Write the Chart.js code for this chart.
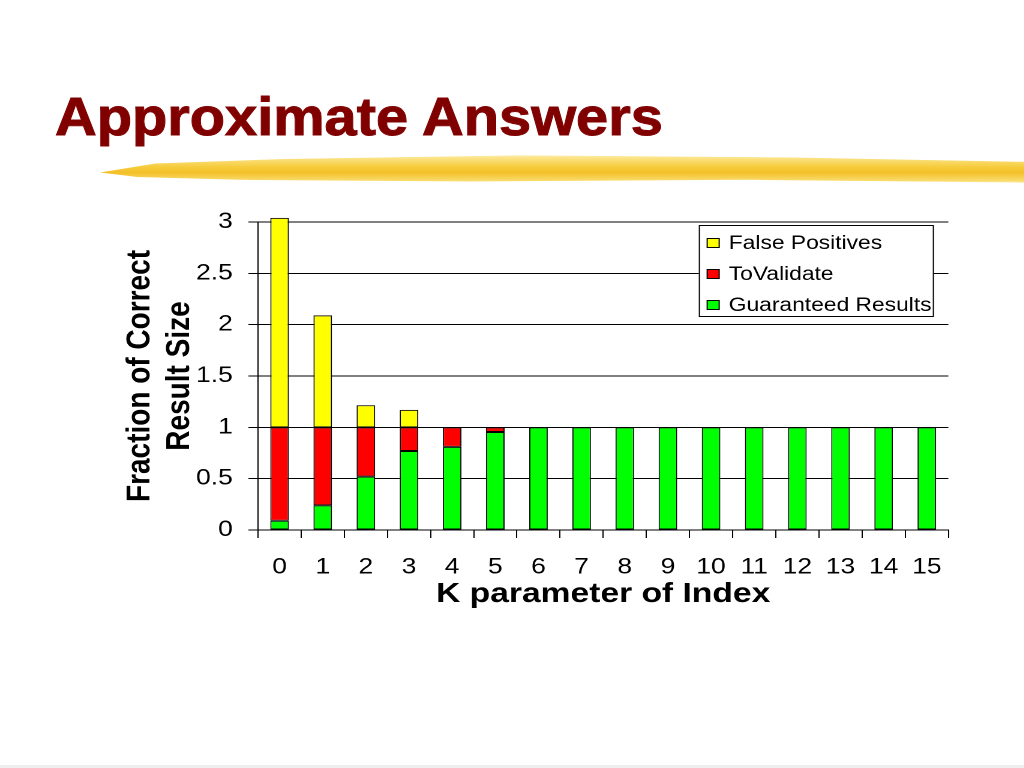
<!DOCTYPE html>
<html>
<head>
<meta charset="utf-8">
<script src="https://cdn.jsdelivr.net/npm/chart.js@4.4.1/dist/chart.umd.min.js"></script>
<style>
  html, body { margin: 0; padding: 0; background: #fff; }
  body { width: 1024px; height: 768px; position: relative; overflow: hidden; }
  .title {
    position: absolute; left: 55px; top: 90px;
    font: bold 53px 'Liberation Sans', Arial, sans-serif; line-height: 1;
    color: #800000; white-space: nowrap;
    -webkit-text-stroke: 1px #800000;
    transform: scaleX(1.09); transform-origin: 0 0;
  }
  .brush {
    position: absolute; left: 100px; top: 151px; width: 924px; height: 36px;
    background: linear-gradient(to bottom, rgba(255,235,140,0) 0%, #fbe48a 18%, #f6cb3a 45%, #f3c02a 60%, #f9db6a 82%, rgba(255,235,140,0) 100%);
    clip-path: polygon(0 60%, 6% 35%, 20% 22%, 45% 12%, 75% 18%, 100% 30%, 100% 88%, 70% 80%, 40% 85%, 15% 80%, 4% 72%);
  }
  .bottom-line { position: absolute; left: 0; top: 765px; width: 1024px; height: 3px; background: #eeeeee; }
  /* chart is drawn narrower and stretched sideways like the slide */
  #wrap {
    position: absolute; left: 0; top: 0; width: 853.33px; height: 768px;
    transform: scaleX(1.2); transform-origin: 0 0;
  }
</style>
</head>
<body>
<div class="title">Approximate Answers</div>
<div class="brush"></div>
<div class="bottom-line"></div>
<div id="wrap"><canvas id="chart"></canvas></div>
<script>
var kValues = ['0', '1', '2', '3', '4', '5', '6', '7', '8', '9', '10', '11', '12', '13', '14', '15'];
var guaranteed = [0.09, 0.24, 0.52, 0.77, 0.81, 0.955, 1, 1, 1, 1, 1, 1, 1, 1, 1, 1];
var toValidate = [0.91, 0.76, 0.48, 0.23, 0.19, 0.045, 0, 0, 0, 0, 0, 0, 0, 0, 0, 0];
var falsePositives = [2.04, 1.09, 0.215, 0.17, 0, 0, 0, 0, 0, 0, 0, 0, 0, 0, 0, 0];
var yTickLabels = ['0', '0.5', '1', '1.5', '2', '2.5', '3'];

Chart.defaults.font.family = "'Liberation Sans', Arial, sans-serif";
Chart.defaults.color = '#000';

// boxed legend drawn inside the plot area, top right
var boxLegend = {
  id: 'boxLegend',
  afterDatasetsDraw: function(chart) {
    var ctx = chart.ctx;
    var area = chart.chartArea;
    var right = area.right - 12;
    var left = right - 196;
    var top = area.top + 3;
    ctx.save();
    ctx.fillStyle = '#fff';
    ctx.fillRect(left, top, 196, 92);
    ctx.strokeStyle = '#000';
    ctx.lineWidth = 1;
    ctx.strokeRect(left + 0.5, top + 0.5, 195, 91);
    ctx.font = "19px 'Liberation Sans', Arial, sans-serif";
    ctx.textBaseline = 'middle';
    var sets = chart.data.datasets.slice().reverse();
    sets.forEach(function(ds, i) {
      var y = top + 18 + i * 31;
      ctx.fillStyle = ds.backgroundColor;
      ctx.fillRect(left + 7, y - 4.5, 10, 9);
      ctx.strokeRect(left + 7, y - 4.5, 10, 9);
      ctx.fillStyle = '#000';
      ctx.fillText(ds.label, left + 25, y + 1);
    });
    ctx.restore();
  }
};

var ctx = document.getElementById('chart').getContext('2d');
var myChart = new Chart(ctx, {
  type: 'bar',
  data: {
    labels: kValues,
    datasets: [
      {
        label: 'Guaranteed Results',
        data: guaranteed,
        backgroundColor: '#00ff00'
      },
      {
        label: 'ToValidate',
        data: toValidate,
        backgroundColor: '#ff0000'
      },
      {
        label: 'False Positives',
        data: falsePositives,
        backgroundColor: '#ffff00',
        clip: { left: 0, top: 10, right: 0, bottom: 0 }
      }
    ]
  },
  options: {
    responsive: true,
    maintainAspectRatio: false,
    devicePixelRatio: 2,
    animation: false,
    datasets: {
      bar: {
        borderColor: '#000',
        borderWidth: 1,
        borderSkipped: false,
        categoryPercentage: 1,
        barPercentage: 0.43
      }
    },
    layout: {
      padding: { top: 222, right: 63, bottom: 157, left: 100 }
    },
    plugins: {
      legend: { display: false },
      tooltip: { enabled: false }
    },
    scales: {
      x: {
        stacked: true,
        grid: {
          offset: true,
          drawOnChartArea: false,
          color: '#000',
          tickLength: 8
        },
        border: { color: '#000', width: 1 },
        ticks: {
          autoSkip: false,
          maxRotation: 0,
          padding: 16,
          font: { size: 22 }
        },
        title: {
          display: true,
          text: 'K parameter of Index',
          font: { size: 28, weight: 'bold', lineHeight: 1.2 },
          padding: 0
        },
        afterFit: function(scale) { scale.height = 81; }
      },
      y: {
        stacked: true,
        min: 0,
        max: 3,
        grid: {
          color: '#000',
          lineWidth: 1,
          tickLength: 8
        },
        border: { color: '#000', width: 1 },
        ticks: {
          stepSize: 0.5,
          padding: 13,
          font: { size: 22 },
          callback: function(v, i) { return yTickLabels[i]; }
        },
        title: {
          display: true,
          text: ['Fraction of Correct', 'Result Size'],
          font: { size: 28, weight: 'bold', lineHeight: 1.19 },
          padding: 0
        },
        afterFit: function(scale) { scale.width = 115; }
      }
    }
  },
  plugins: [boxLegend]
});
</script>
</body>
</html>
